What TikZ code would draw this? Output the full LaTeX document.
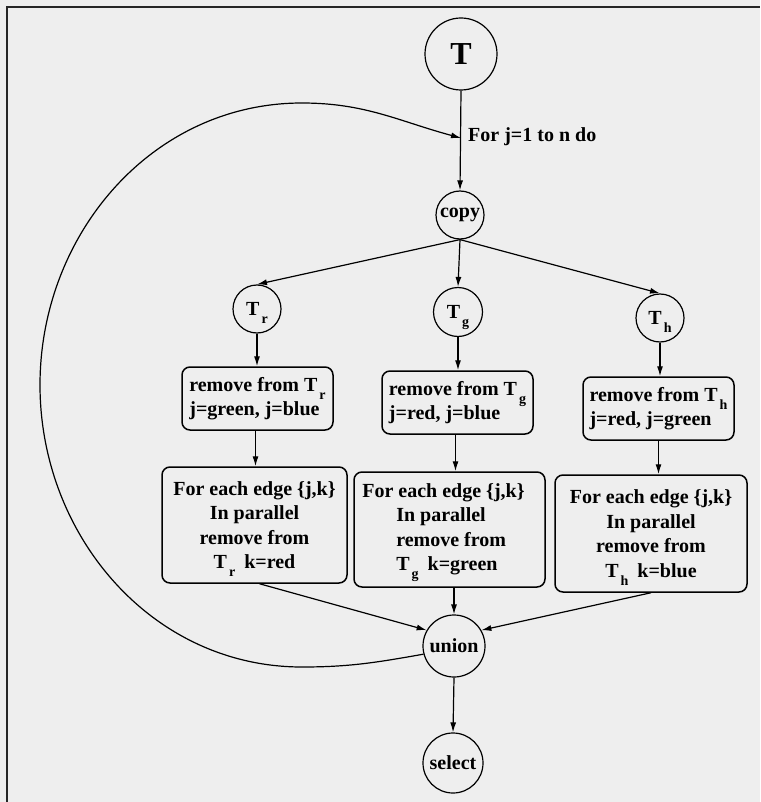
\documentclass[tikz,border=0pt]{standalone}
\usepackage{fontspec}
\setmainfont{Liberation Serif}
\usetikzlibrary{arrows.meta}
% lowered, smaller subscript that does not disturb the line spacing
\newcommand{\lowsub}[1]{\kern2pt\smash{\raisebox{-8pt}{\fontsize{14pt}{14pt}\selectfont #1}}}
\definecolor{paper}{gray}{0.935}
\begin{document}
\begin{tikzpicture}[x=1pt,y=1pt,
  lbl/.style={font=\fontsize{20pt}{24pt}\selectfont\bfseries},
  vertex/.style={circle, draw, line width=1.2pt, inner sep=0pt, lbl},
  stepbox/.style={draw, rounded corners=8pt, line width=1.5pt, inner sep=0pt, align=left, lbl},
  forbox/.style={draw, rounded corners=8pt, line width=1.5pt, inner sep=0pt, align=center,
                 font=\fontsize{20pt}{24.5pt}\selectfont\bfseries},
  conn/.style={line width=1.2pt, -{Latex[length=10pt,width=6pt]}},
]
% sheet and frame
\fill[paper] (0,0) rectangle (760,-802);
\useasboundingbox (0,0) rectangle (760,-802);
\draw[line width=2pt, black!85] (7,-802) -- (7,-7) -- (760,-7);

% vertices
\node[vertex, minimum size=72pt, font=\fontsize{32pt}{32pt}\selectfont\bfseries] (T) at (461,-54) {T};
\node[vertex, minimum size=48pt] (copy) at (460,-215) {copy};
\node[vertex, minimum size=48pt] (Tr) at (257,-309) {T\lowsub{r}};
\node[vertex, minimum size=49pt] (Tg) at (458,-312) {T\lowsub{g}};
\node[vertex, minimum size=48pt] (Tb) at (660,-318) {T\lowsub{h}};
\node[vertex, minimum size=62pt] (union) at (454,-646) {union};
\node[vertex, minimum size=60pt] (select) at (453,-763) {select};

% loop label
\node[lbl, anchor=base west, inner sep=0pt] (forj) at (468,-142) {For j=1 to n do};
\coordinate (jloop) at (461,-138);

% removal boxes
\node[stepbox, minimum width=151pt, minimum height=63pt] (box1) at (257.5,-398.5)
  {remove from T\lowsub{r}\\ j=green, j=blue};
\node[stepbox, minimum width=151pt, minimum height=63pt] (box2) at (457.5,-402.5)
  {remove from T\lowsub{g}\\ j=red, j=blue};
\node[stepbox, minimum width=151pt, minimum height=63pt] (box3) at (658.5,-408.5)
  {remove from T\lowsub{h}\\ j=red, j=green};

% parallel edge boxes
\node[forbox, minimum width=185pt, minimum height=116pt] (box4) at (254.5,-525)
  {For each edge \{j,k\}\\ In parallel\\ remove from\\ T\lowsub{r}\hspace*{9pt}k=red};
\node[forbox, align=left, minimum width=191pt, minimum height=115pt] (box5) at (449.5,-529.5)
  {For each edge \{j,k\}\hspace*{12pt}\\ \hspace*{34pt}In parallel\\ \hspace*{34pt}remove from\\
   \hspace*{34pt}T\lowsub{g}\hspace*{9pt}k=green};
\node[forbox, minimum width=192pt, minimum height=117pt] (box6) at (651,-533.5)
  {For each edge \{j,k\}\\ In parallel\\ remove from\\ T\lowsub{h}\hspace*{9pt}k=blue};

% loop back path
\coordinate (lb) at (302,-667);
\coordinate (ll) at (40,-385);
\coordinate (lt) at (302,-103);

% connectors
\draw[conn] (T.south) -- (copy.north);
\draw[conn] (copy.south) -- (Tr.north);
\draw[conn] (copy.south) -- (Tg.north);
\draw[conn] (copy.south) -- (Tb.north);
\draw[conn] (Tr.south) -- (box1.north -| Tr);
\draw[conn] (Tg.south) -- (box2.north -| Tg);
\draw[conn] (Tb.south) -- (box3.north -| Tb);
\draw[conn] ([xshift=-2pt]box1.south) -- ([xshift=-2pt]box1.south |- box4.north);
\draw[conn] ([xshift=-2pt]box2.south) -- ([xshift=-2pt]box2.south |- box5.north);
\draw[conn] (box3.south) -- (box3.south |- box6.north);
\draw[conn] ([xshift=5pt]box4.south) -- (union.150);
\draw[conn] (box5.south -| union) -- (union.north);
\draw[conn] (box6.south) -- (union.30);
\draw[conn] (union.south) -- (select.north);
\draw[conn] (union.195) to[out=190,in=0] (lb) to[out=180,in=-90] (ll)
  to[out=90,in=180] (lt) to[out=0,in=165] (jloop);
\end{tikzpicture}
\end{document}
